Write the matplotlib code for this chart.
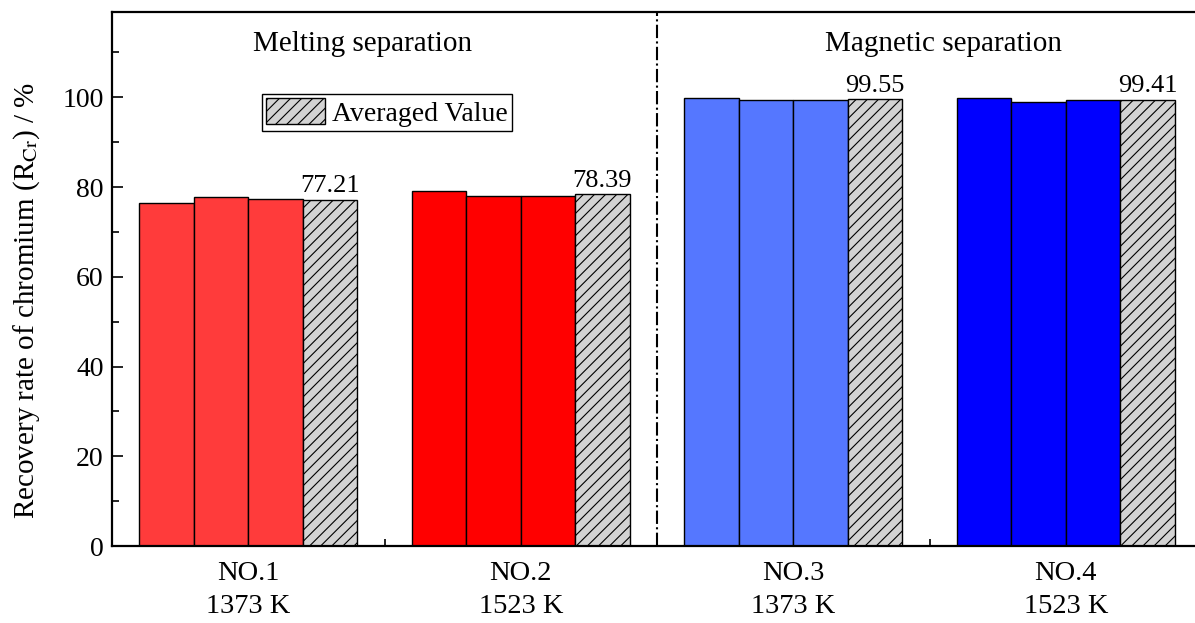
import matplotlib
matplotlib.use("Agg")
import matplotlib.pyplot as plt
from matplotlib.patches import Patch
import numpy as np

plt.rcParams['font.family'] = ['Liberation Serif', 'DejaVu Serif']
plt.rcParams['mathtext.fontset'] = 'stix'
plt.rcParams['hatch.linewidth'] = 0.8

categories = ["NO.1\n1373 K", "NO.2\n1523 K", "NO.3\n1373 K", "NO.4\n1523 K"]
trial1 = [76.5, 79.1, 99.9, 99.85]
trial2 = [77.77, 78.1, 99.3, 99.0]
trial3 = [77.37, 78.0, 99.45, 99.38]
averages = [77.21, 78.39, 99.55, 99.41]
avg_labels = ["77.21", "78.39", "99.55", "99.41"]
group_colors = ["#FF3B3B", "#FF0000", "#5577FF", "#0000FF"]
section_titles = ["Melting separation", "Magnetic separation"]

fig = plt.figure(figsize=(11.95, 6.23), dpi=100)
ax = fig.add_axes([112/1195, 77/623, 1090/1195, 534/623])

centers = np.arange(len(categories)) * 5.0
w = 1.0
for i, c in enumerate(centers):
    for j, vals in enumerate([trial1, trial2, trial3]):
        ax.bar(c - 1.5 + j, vals[i], width=w, color=group_colors[i],
               edgecolor='black', linewidth=1.0)
    ax.bar(c + 1.5, averages[i], width=w, color='#D3D3D3', edgecolor='black',
           linewidth=1.0, hatch='///')
    ax.text(c + 1.5, averages[i] + 0.6, avg_labels[i], ha='center', va='bottom',
            fontsize=19)

ax.axvline(7.5, color='black', linestyle='-.', linewidth=1.5)

ax.set_xlim(-2.5, 17.5)
ax.set_ylim(0, 119)
ax.set_xticks(centers)
ax.set_xticklabels(categories, fontsize=20.5, linespacing=1.4)
ax.set_xticks([2.5, 7.5, 12.5], minor=True)
ax.tick_params(axis='x', which='major', length=0, pad=11)
ax.tick_params(axis='x', which='minor', direction='in', length=5, width=1.2)
ax.set_yticks(np.arange(0, 101, 20))
ax.set_yticks(np.arange(10, 111, 20), minor=True)
ax.tick_params(axis='y', which='major', direction='in', length=8, width=1.2,
               labelsize=20, pad=6)
ax.tick_params(axis='y', which='minor', direction='in', length=5, width=1.2)
ax.set_ylabel(r"Recovery rate of chromium (R$_{\mathrm{Cr}}$) / %", fontsize=21)
ax.yaxis.set_label_coords(-0.064, 0.459)

for s in ax.spines.values():
    s.set_linewidth(1.6)

ax.text(2.09, 111.8, section_titles[0], ha='center', va='center', fontsize=21)
ax.text(12.75, 111.8, section_titles[1], ha='center', va='center', fontsize=21)

handle = Patch(facecolor='#D3D3D3', edgecolor='black', hatch='///', linewidth=1.0)
leg = ax.legend([handle], ["Averaged Value"], loc='upper left',
                bbox_to_anchor=(0.1376, 0.846), borderaxespad=0, fontsize=20,
                fancybox=False, edgecolor='black', framealpha=1,
                handlelength=2.12, handleheight=1.04, borderpad=0.15,
                handletextpad=0.25)
leg.get_frame().set_linewidth(1.0)

fig.savefig("out.png", dpi=100)
